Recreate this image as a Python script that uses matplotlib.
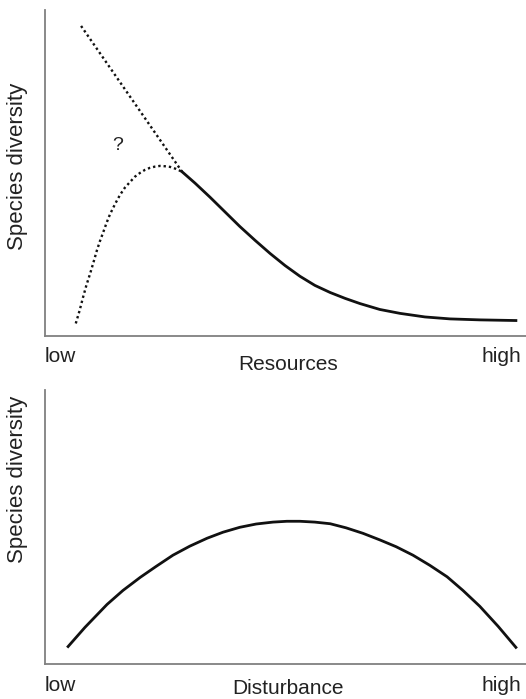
import matplotlib
matplotlib.use("Agg")
import matplotlib.pyplot as plt

plt.rcParams['font.family'] = ['Liberation Sans', 'DejaVu Sans']

# top panel: resources (x and y scaled 0..1)
line_x = [0.075, 0.285]
line_y = [0.951, 0.503]

hump_x = [0.064, 0.072, 0.079, 0.086, 0.094, 0.101, 0.108, 0.114, 0.121, 0.128, 0.135,
          0.146, 0.156, 0.166, 0.177, 0.187, 0.198, 0.208, 0.218, 0.229, 0.239, 0.249,
          0.260, 0.272, 0.285]
hump_y = [0.037, 0.077, 0.117, 0.154, 0.191, 0.226, 0.262, 0.289, 0.317, 0.346, 0.372,
          0.405, 0.432, 0.454, 0.472, 0.488, 0.500, 0.509, 0.515, 0.519, 0.521, 0.520,
          0.518, 0.512, 0.503]

decay_x = [0.285, 0.312, 0.343, 0.374, 0.405, 0.437, 0.468, 0.499, 0.530, 0.561, 0.593,
           0.624, 0.655, 0.696, 0.738, 0.790, 0.842, 0.904, 0.979]
decay_y = [0.503, 0.468, 0.425, 0.380, 0.335, 0.292, 0.252, 0.215, 0.182, 0.154, 0.132,
           0.114, 0.098, 0.080, 0.068, 0.057, 0.051, 0.048, 0.046]

# bottom panel: disturbance
dist_x = [0.048, 0.083, 0.129, 0.162, 0.198, 0.231, 0.266, 0.301, 0.337, 0.370, 0.405,
          0.439, 0.474, 0.503, 0.530, 0.561, 0.593, 0.626, 0.661, 0.696, 0.730, 0.765,
          0.800, 0.836, 0.869, 0.904, 0.942, 0.979]
dist_y = [0.062, 0.132, 0.216, 0.267, 0.315, 0.355, 0.396, 0.429, 0.458, 0.480, 0.498,
          0.510, 0.517, 0.520, 0.520, 0.517, 0.511, 0.496, 0.476, 0.452, 0.427, 0.396,
          0.359, 0.317, 0.267, 0.209, 0.136, 0.059]

W, H = 526, 699
fig = plt.figure(figsize=(W / 100, H / 100), dpi=100)

def px_box(left, top, right, bottom):
    return [left / W, 1 - bottom / H, (right - left) / W, (bottom - top) / H]

ax1 = fig.add_axes(px_box(45, 10, 526, 335.5))
ax2 = fig.add_axes(px_box(45, 390, 526, 663.5))

dots = (0, (1, 1.25))
ink = '#111111'
ax1.plot(line_x, line_y, color=ink, lw=1.7, linestyle=dots)
ax1.plot(hump_x, hump_y, color=ink, lw=1.7, linestyle=dots)
ax1.plot(decay_x, decay_y, color=ink, lw=2.0, solid_joinstyle='round')
ax1.text(0.152, 0.585, '?', fontsize=14, ha='center', va='center', color='#222222')

ax2.plot(dist_x, dist_y, color=ink, lw=2.0, solid_joinstyle='round')

for ax in (ax1, ax2):
    ax.set_xlim(0, 1)
    ax.set_ylim(0, 1)
    ax.set_xticks([])
    ax.set_yticks([])
    for s in ('top', 'right'):
        ax.spines[s].set_visible(False)
    for s in ('left', 'bottom'):
        ax.spines[s].set_color('#808080')
        ax.spines[s].set_linewidth(1.3)

fs = 15
fs_y = 16
tc = '#222222'
# top labels
fig.text(45 / W, 1 - 362 / H, 'low', fontsize=fs, ha='left', va='baseline', color=tc)
fig.text(521 / W, 1 - 362 / H, 'high', fontsize=fs, ha='right', va='baseline', color=tc)
fig.text(288 / W, 1 - 370 / H, 'Resources', fontsize=fs, ha='center', va='baseline', color=tc)
fig.text(18 / W, 1 - 166 / H, 'Species diversity', fontsize=fs_y, rotation=90,
         ha='center', va='center', color=tc)
# bottom labels
fig.text(45 / W, 1 - 691 / H, 'low', fontsize=fs, ha='left', va='baseline', color=tc)
fig.text(521 / W, 1 - 691 / H, 'high', fontsize=fs, ha='right', va='baseline', color=tc)
fig.text(288 / W, 1 - 694 / H, 'Disturbance', fontsize=fs, ha='center', va='baseline', color=tc)
fig.text(18 / W, 1 - 479 / H, 'Species diversity', fontsize=fs_y, rotation=90,
         ha='center', va='center', color=tc)

fig.savefig('out.png', dpi=100)
